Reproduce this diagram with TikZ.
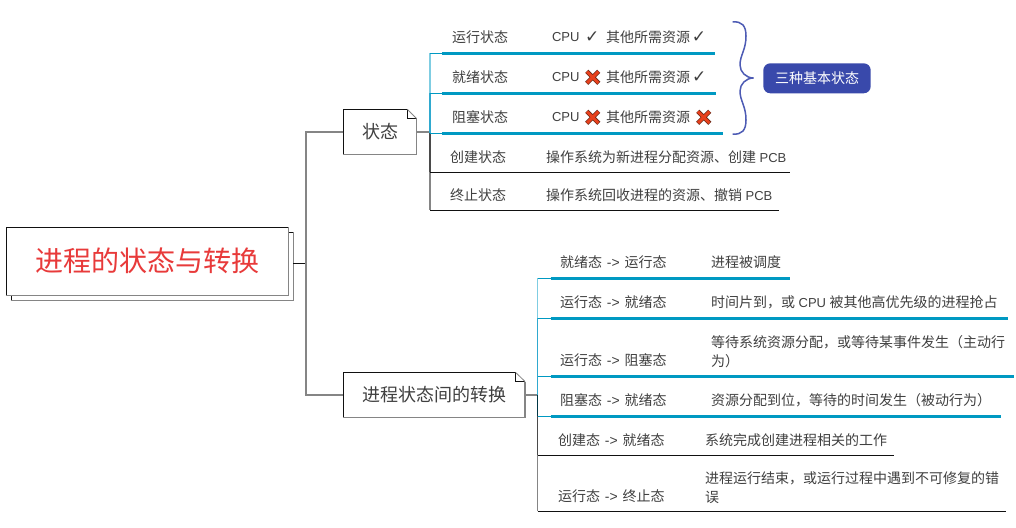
\documentclass[tikz,border=0pt]{standalone}
\usepackage{fontspec}
\setmainfont{Noto Sans CJK SC}
\newfontfamily\symfont{DejaVu Sans}
\newfontfamily\lat{Liberation Sans}
\newcommand{\arw}{{\lat\hspace{4.9pt}->\hspace{4.9pt}}}
\newcommand{\smlat}[1]{{\lat\fontsize{13}{19}\selectfont #1}}
\definecolor{txt}{HTML}{404040}
\definecolor{edge}{HTML}{111111}
\definecolor{soft}{HTML}{858585}
\definecolor{teal}{HTML}{0099C2}
\definecolor{tealA}{HTML}{7FCDE2}
\definecolor{tealB}{HTML}{2FA9CF}
\definecolor{darkt}{HTML}{4A4A4A}
\definecolor{indigoA}{HTML}{3949AB}
\definecolor{roottxt}{HTML}{E83A3A}
\definecolor{xfill}{HTML}{E8401C}
\definecolor{xline}{HTML}{6B2A18}
\tikzset{
  x=1pt,y=-1pt,
  lab/.style={anchor=west,inner sep=0pt,outer sep=0pt,text=txt,align=left,
    font=\fontsize{14}{19}\selectfont},
  topicbox/.style={fill=white,inner sep=0pt,outer sep=0pt,text=txt,
    font=\fontsize{18}{22}\selectfont},
  hair/.style={draw=edge,line width=.9pt},
  fat/.style={draw=soft,line width=1.3pt},
  under/.style={draw=teal,line width=2.7pt},
  thin/.style={draw=teal,line width=.9pt},
  chk/.style={inner sep=0pt,text=txt,font=\symfont\fontsize{17}{19}\selectfont},
  pics/redx/.style={code={
    \draw[line width=4.4pt,draw=xline] (-6,-6) -- (6,6) (-6,6) -- (6,-6);
    \draw[line width=2.9pt,draw=xfill] (-5.7,-5.7) -- (5.7,5.7) (-5.7,5.7) -- (5.7,-5.7);
  }}
}
\begin{document}
\begin{tikzpicture}
\useasboundingbox[fill=white] (0,0) rectangle (1016,527);

% root
\node[draw=edge,line width=.9pt,fill=white,minimum width=282pt,minimum height=68pt,inner sep=0pt] (rootback) at (152,266) {};
\draw[fat] (rootback.south west) -- (rootback.south east) -- (rootback.north east);
\node[draw=edge,line width=.9pt,fill=white,minimum width=282pt,minimum height=68pt,inner sep=0pt] (root) at (147,261) {};
\draw[fat] (root.south west) -- (root.south east) -- (root.north east);
\node[inner sep=0pt,text=roottxt] (roottitle) at (root.center) {\fontsize{28}{32}\selectfont 进程的状态与转换};

% topic boxes
\node[topicbox,minimum width=73.4pt,minimum height=45.4pt] (state) at (380,132) {状态};
\node[topicbox,minimum width=181.7pt,minimum height=45pt] (trans) at (434.2,395) {进程状态间的转换};
\draw[hair] (state.north east) ++(-9.4,0) -- (state.north west) -- (state.south west);
\draw[fat] (state.south west) -- (state.south east) -- ([yshift=-9.4pt]state.north east);
\draw[hair] (state.north east) ++(-9.4,0) -- ++(0,9.4) -- ++(9.4,0);
\draw[soft,line width=.8pt] (state.north east) ++(-9.4,0) -- ++(9.4,9.4);
\draw[hair] (trans.north east) ++(-9.4,0) -- (trans.north west) -- (trans.south west);
\draw[fat] (trans.south west) -- (trans.south east) -- ([yshift=-9pt]trans.north east);
\draw[hair] (trans.north east) ++(-9.4,0) -- ++(0,9) -- ++(9.4,0);
\draw[soft,line width=.8pt] (trans.north east) ++(-9.4,0) -- ++(9.4,9);

% main trunk
\coordinate (mid) at (306,263);
\coordinate (t1) at (306,132);
\coordinate (t2) at (306,395);
\draw[hair] (rootback.east |- mid) -- (mid);
\draw[fat] (state.west) -- (t1) -- (t2) -- (trans.west);

% upper branch
\coordinate (a0) at (430,132);
\coordinate (a1) at (430,53.3);
\coordinate (a2) at (430,93.3);
\coordinate (a3) at (430,133.3);
\coordinate (a4) at (430,172.3);
\coordinate (a5) at (430,210.3);
\draw[fat] (state.east) -- (a0);
\draw[tealA,line width=1.4pt] (a1) -- (a2);
\draw[tealB,line width=1.4pt] (a2) -- (a3);
\draw[darkt,line width=1.4pt] (a3) -- (a4);
\draw[soft,line width=1.4pt] (a4) -- (a5);
\coordinate (a1s) at (442,53.3); \coordinate (a1e) at (714.5,53.3);
\coordinate (a2s) at (442,93.3); \coordinate (a2e) at (715.7,93.3);
\coordinate (a3s) at (442,133.3); \coordinate (a3e) at (723,133.3);
\coordinate (a4e) at (790,172.3);
\coordinate (a5e) at (779,210.3);
\draw[thin] (a1) -- (a1s); \draw[under] (a1s) -- (a1e);
\draw[thin] (a2) -- (a2s); \draw[under] (a2s) -- (a2e);
\draw[thin] (a3) -- (a3s); \draw[under] (a3s) -- (a3e);
\draw[hair] (a4) -- (a4e);
\draw[hair] (a5) -- (a5e);

\node[lab] (s1) at (452,37) {运行状态};
\node[lab] (s2) at (452,77) {就绪状态};
\node[lab] (s3) at (452,117) {阻塞状态};
\node[lab] (s4) at (450,157) {创建状态};
\node[lab] (s5) at (450,195.5) {终止状态};
\node[lab] (c1) at (552,37) {\smlat{CPU}};
\node[lab] (c2) at (552,77) {\smlat{CPU}};
\node[lab] (c3) at (552,117) {\smlat{CPU}};
\node[lab] (r1) at (606,37) {其他所需资源};
\node[lab] (r2) at (606,77) {其他所需资源};
\node[lab] (r3) at (606,117) {其他所需资源};
\node[chk] (k1) at (592.3,37) {✓};
\node[chk] (k2) at (699,37) {✓};
\node[chk] (k3) at (699.3,77) {✓};
\pic at (592.7,77.3) {redx};
\pic at (592.7,117.3) {redx};
\pic at (703.7,117.3) {redx};
\node[lab] (d4) at (546,157) {操作系统为新进程分配资源、创建\smlat{\ PCB}};
\node[lab] (d5) at (546,195.5) {操作系统回收进程的资源、撤销\smlat{\ PCB}};

% brace and badge
\draw[indigoA!90!white,line width=1.5pt]
  (732.7,22) .. controls (742,21) and (746,26) .. (746,36)
  .. controls (746,50) and (740,55) .. (740,65)
  .. controls (740,72) and (746,78) .. (753.5,78)
  .. controls (746,78) and (740,84) .. (740,91)
  .. controls (740,101) and (746,106) .. (746,120)
  .. controls (746,130) and (742,135) .. (732.7,134);
\node[fill=indigoA,rounded corners=7pt,minimum width=107.4pt,minimum height=30pt,inner sep=0pt,
  text=white,font=\fontsize{14}{16}\selectfont] (badge) at (817,78.3) {三种基本状态};

% lower branch
\coordinate (b0) at (537.5,395);
\coordinate (b1) at (537.5,278.3);
\coordinate (b2) at (537.5,318.3);
\coordinate (b3) at (537.5,376.3);
\coordinate (b4) at (537.5,416.3);
\coordinate (b5) at (537.5,455.3);
\coordinate (b6) at (537.5,511.3);
\draw[fat] (trans.east) -- (b0);
\draw[tealA,line width=1.4pt] (b1) -- (b2);
\draw[tealB,line width=1.4pt] (b2) -- (b0);
\draw[black!65!teal,line width=1.4pt] (b0) -- (b4);
\draw[darkt,line width=1.4pt] (b4) -- (b5);
\draw[soft,line width=1.4pt] (b5) -- (b6);
\coordinate (b1s) at (550.7,278.3); \coordinate (b1e) at (790.3,278.3);
\coordinate (b2s) at (550.7,318.3); \coordinate (b2e) at (1007.7,318.3);
\coordinate (b3s) at (550.7,376.3); \coordinate (b3e) at (1014.3,376.3);
\coordinate (b4s) at (550.7,416.3); \coordinate (b4e) at (1000.7,416.3);
\coordinate (b5e) at (894,455.3);
\coordinate (b6e) at (1006,511.3);
\draw[thin] (b1) -- (b1s); \draw[under] (b1s) -- (b1e);
\draw[thin] (b2) -- (b2s); \draw[under] (b2s) -- (b2e);
\draw[thin] (b3) -- (b3s); \draw[under] (b3s) -- (b3e);
\draw[thin] (b4) -- (b4s); \draw[under] (b4s) -- (b4e);
\draw[hair] (b5) -- (b5e);
\draw[hair] (b6) -- (b6e);

\node[lab] (l1) at (560,262) {就绪态\arw 运行态};
\node[lab] (l2) at (560,302) {运行态\arw 就绪态};
\node[lab] (l3) at (560,360.5) {运行态\arw 阻塞态};
\node[lab] (l4) at (560,400.5) {阻塞态\arw 就绪态};
\node[lab] (l5) at (558,440.5) {创建态\arw 就绪态};
\node[lab] (l6) at (558,496.5) {运行态\arw 终止态};
\node[lab] (x1) at (711,262) {进程被调度};
\node[lab] (x2) at (711,302) {时间片到，或\smlat{\ CPU\ }被其他高优先级的进程抢占};
\node[lab] (x3) at (711,351.5) {等待系统资源分配，或等待某事件发生（主动行\\为）};
\node[lab] (x4) at (711,400.5) {资源分配到位，等待的时间发生（被动行为）};
\node[lab] (x5) at (705,440.5) {系统完成创建进程相关的工作};
\node[lab] (x6) at (705,487.5) {进程运行结束，或运行过程中遇到不可修复的错\\误};
\end{tikzpicture}
\end{document}
